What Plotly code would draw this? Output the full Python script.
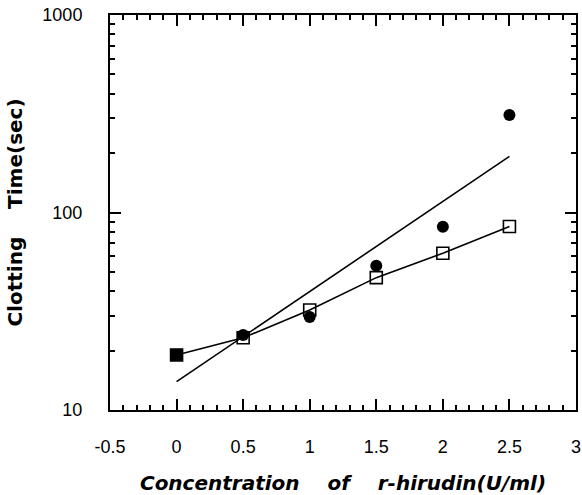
import numpy as np
import plotly.graph_objects as go

# Data
conc = [0, 0.5, 1.0, 1.5, 2.0, 2.5]
time_circle = [19, 24, 29.6, 53.8, 84.8, 312]     # filled circles
time_square = [19, 23.2, 32.1, 46.8, 62.2, 85]    # open squares

x_ticks = [-0.5, 0, 0.5, 1, 1.5, 2, 2.5, 3]
x_ticktext = ["-0.5", "0", "0.5", "1", "1.5", "2", "2.5", "3"]
y_ticks = [10, 100, 1000]
y_ticktext = ["10", "100", "1000"]
y_minor = [v * m for m in (10, 100) for v in range(2, 10)]

# Least-squares fit (log scale) for filled-circle series
slope, intercept = np.polyfit(conc, np.log10(time_circle), 1)
fit_x = [conc[0], conc[-1]]
fit_y = [10 ** (intercept + slope * xv) for xv in fit_x]

FONT = "Liberation Sans, Arial, sans-serif"
TFONT = "DejaVu Sans, sans-serif"
X_RANGE = [-0.5, 3.0]
Y_RANGE = [1, 3]

fig = go.Figure()
fig.add_trace(go.Scatter(x=fit_x, y=fit_y, mode="lines",
                         line=dict(color="black", width=1.6), showlegend=False))
fig.add_trace(go.Scatter(x=conc, y=time_square, mode="lines",
                         line=dict(color="black", width=1.6), showlegend=False))
fig.add_trace(go.Scatter(x=conc, y=time_circle, mode="markers",
                         marker=dict(symbol="circle", size=12, color="black"),
                         showlegend=False))
fig.add_trace(go.Scatter(x=conc, y=time_square, mode="markers",
                         marker=dict(symbol=["square"] + ["square-open"] * 5, size=12,
                                     color="black", line=dict(color="black", width=1.6)),
                         showlegend=False))

tick_common = dict(ticks="inside", ticklen=11, tickwidth=1.5, tickcolor="black",
                   showgrid=False, zeroline=False, automargin=False,
                   showline=True, linecolor="black", linewidth=2, mirror="ticks")
minor_x = dict(dtick=0.1, ticks="inside", ticklen=5, tickwidth=1.5, tickcolor="black")
minor_y = dict(tickvals=y_minor, ticks="inside", ticklen=5, tickwidth=1.5, tickcolor="black")

fig.update_layout(
    width=582, height=495,
    margin=dict(l=110, r=6, t=15, b=85),
    plot_bgcolor="white", paper_bgcolor="white",
    font=dict(family=FONT, color="black", size=18),
    xaxis=dict(
        range=X_RANGE, tickvals=x_ticks, ticktext=x_ticktext,
        minor=minor_x, ticklabelstandoff=19, tickfont=dict(size=18),
        title=dict(text="<b><i>Concentration    of    r-hirudin(U/ml)</i></b>",
                   font=dict(size=20, family=TFONT), standoff=20),
        **tick_common,
    ),
    yaxis=dict(
        type="log", range=Y_RANGE, tickvals=y_ticks, ticktext=y_ticktext,
        minor=minor_y, ticklabelstandoff=22, tickfont=dict(size=18),
        title=dict(text="<b>Clotting    Time(sec)</b>", font=dict(size=20, family=TFONT), standoff=14),
        **tick_common,
    ),
)

fig.write_html("out.html", config={"displayModeBar": False},
               post_script="document.body.style.margin='0';document.body.style.padding='0';")
